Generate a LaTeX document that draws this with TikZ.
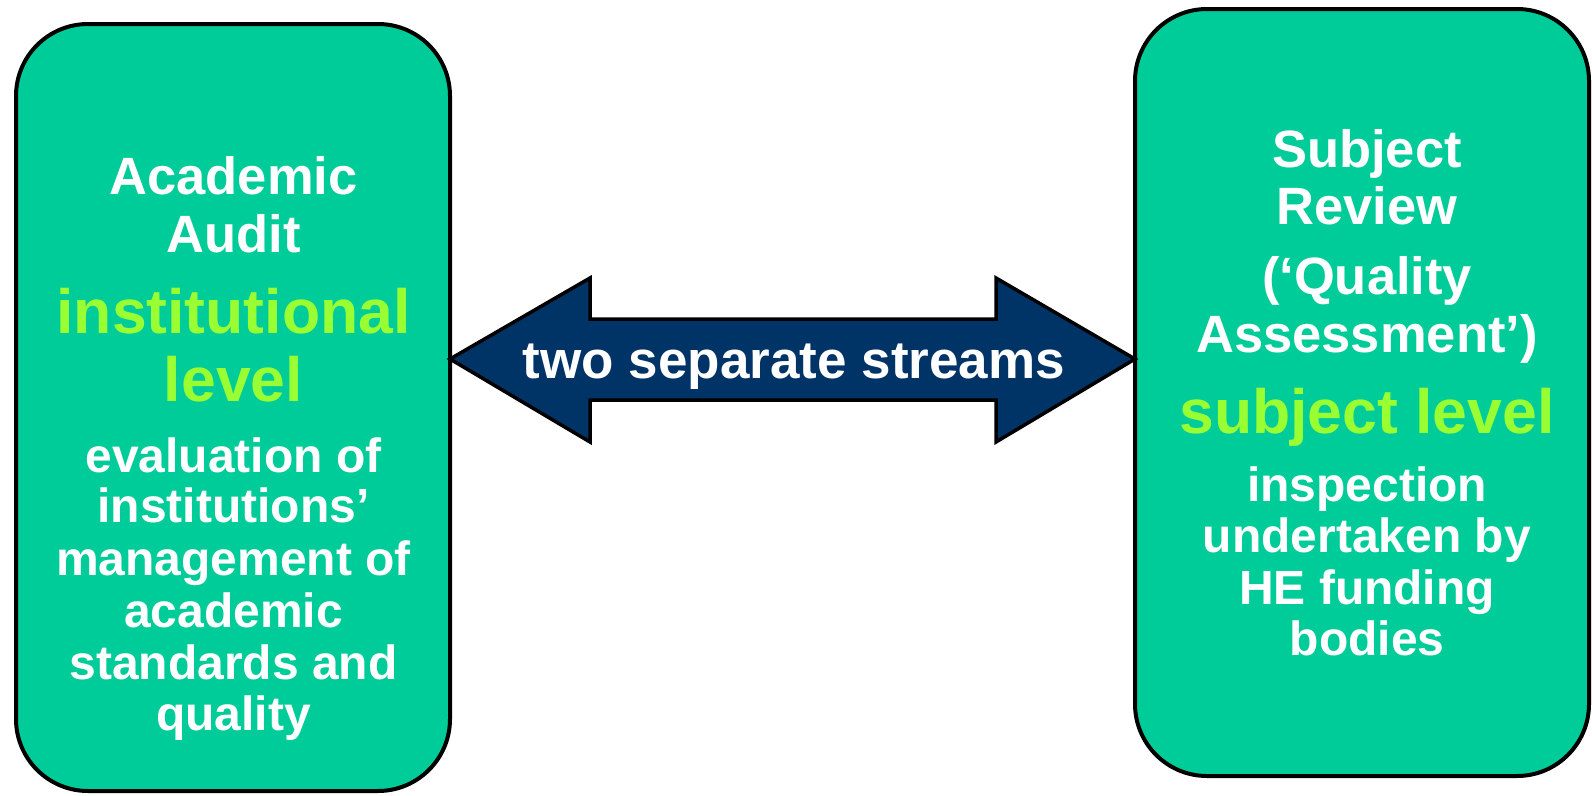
\documentclass[tikz,border=0pt]{standalone}
\usepackage{fontspec}
\setmainfont{Liberation Sans}
\definecolor{boxgreen}{RGB}{0,204,153}
\definecolor{limetext}{RGB}{153,255,51}
\definecolor{navy}{RGB}{0,51,102}
\tikzset{
  panel/.style={draw=black, line width=4pt, fill=boxgreen, rounded corners=72pt, inner sep=0pt, outer sep=0pt},
  bigtxt/.style={anchor=base, text=white, inner sep=0pt, font=\bfseries\fontsize{52.5}{57}\selectfont},
  limetxt/.style={anchor=base, text=limetext, inner sep=0pt, font=\bfseries\fontsize{62.5}{68}\selectfont},
  smalltxt/.style={anchor=base, text=white, inner sep=0pt, font=\bfseries\fontsize{48}{52}\selectfont},
  blockarrow/.style={draw=black, line width=3.5pt, fill=navy, line join=miter},
  arrowtxt/.style={anchor=base, text=white, inner sep=0pt, font=\bfseries\fontsize{53}{58}\selectfont}
}
\begin{document}
\begin{tikzpicture}[x=1pt, y=-1pt]
\useasboundingbox (0,0) rectangle (1592,795);
% boxes
\node[panel, minimum width=434pt, minimum height=767pt] (L) at (233,407.5) {};
\node[panel, minimum width=454pt, minimum height=767pt] (R) at (1362,392.5) {};
% block arrow between boxes
\coordinate (tipL) at (L.east |- 0,359);
\coordinate (tipR) at (R.west |- 0,359);
\draw[blockarrow] (tipL) -- (590,278) -- (590,319) -- (996,319) -- (996,278) -- (tipR)
  -- (996,442) -- (996,400) -- (590,400) -- (590,442) -- cycle;
\node[arrowtxt] (arr) at (794,378) {two separate streams};
% left text
\node[bigtxt] (l1) at (233.5,194) {Academic};
\node[bigtxt] (l2) at (233.5,252) {Audit};
\node[limetxt] (l3) at (233.5,333) {institutional};
\node[limetxt] (l4) at (233.5,401) {level};
\node[smalltxt] (l5) at (233.5,472) {evaluation of};
\node[smalltxt] (l6) at (233.5,522) {institutions’};
\node[smalltxt] (l7) at (233.5,575) {management of};
\node[smalltxt] (l8) at (233.5,627) {academic};
\node[smalltxt] (l9) at (233.5,679) {standards and};
\node[smalltxt] (l10) at (233.5,730) {quality};
% right text
\node[bigtxt] (r1) at (1367,167) {Subject};
\node[bigtxt] (r2) at (1367,224) {Review};
\node[bigtxt] (r3) at (1367,294) {(‘Quality};
\node[bigtxt] (r4) at (1367,352) {Assessment’)};
\node[limetxt] (r5) at (1367,433) {subject level};
\node[smalltxt] (r6) at (1367,501) {inspection};
\node[smalltxt] (r7) at (1367,552) {undertaken by};
\node[smalltxt] (r8) at (1367,604) {HE funding};
\node[smalltxt] (r9) at (1367,655) {bodies};
\end{tikzpicture}
\end{document}
